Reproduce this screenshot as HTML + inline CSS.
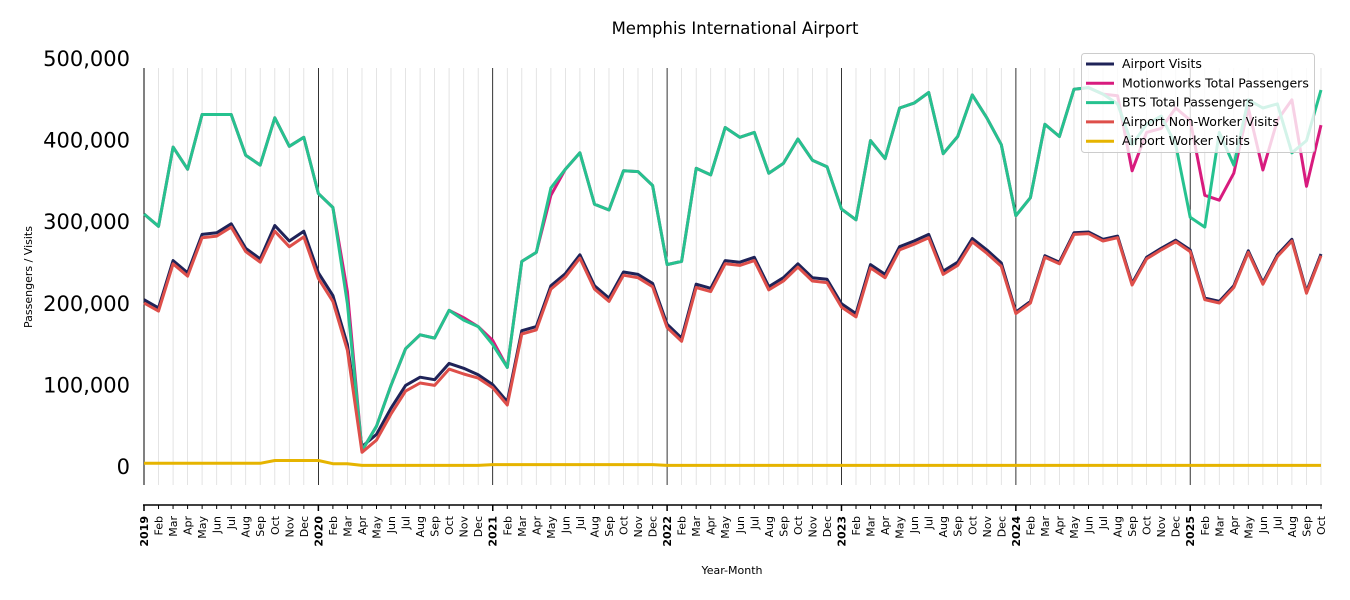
<!DOCTYPE html>
<html><head><meta charset="utf-8"><style>
body{margin:0;background:#fff;}
svg{display:block;font-family:"DejaVu Sans","Liberation Sans",sans-serif;}
</style></head><body>
<svg id="s" width="1350" height="600" xmlns="http://www.w3.org/2000/svg"></svg>
<script>
const S=document.getElementById('s');
const X0=144,DX=(1321-144)/81;
const xv=i=>X0+DX*i, yv=v=>467-v*0.816;
let h='';
h+='<text x="735" y="34" font-size="16.5" text-anchor="middle">Memphis International Airport</text>';
for(let i=0;i<82;i++){const x=xv(i).toFixed(1);
 if(i%12==0) h+=`<line x1="${x}" y1="68" x2="${x}" y2="485" stroke="#000" stroke-width="0.8"/>`;
 else h+=`<line x1="${x}" y1="68" x2="${x}" y2="485" stroke="#ddd" stroke-width="0.8"/>`;}
h+='<line x1="144" y1="68" x2="144" y2="485" stroke="#000" stroke-width="1"/>';
const yl=['0','100,000','200,000','300,000','400,000','500,000'];
yl.forEach((t,k)=>{const y=yv(k*100);h+=`<text x="130" y="${y+7}" font-size="21" text-anchor="end">${t}</text>`;});
h+='<text transform="translate(32,277) rotate(-90)" font-size="11" text-anchor="middle">Passengers / Visits</text>';
h+='<line x1="143" y1="505" x2="1322" y2="505" stroke="#000" stroke-width="1.5"/>';
const mn=['Feb','Mar','Apr','May','Jun','Jul','Aug','Sep','Oct','Nov','Dec'];
for(let i=0;i<82;i++){const x=xv(i);const m=i%12;
 h+=`<line x1="${x}" y1="505" x2="${x}" y2="${m==0?511:509}" stroke="#000" stroke-width="${m==0?1.5:1}"/>`;
 const t=m==0?(2019+i/12):mn[m-1];
 h+=`<text transform="translate(${x+4},516) rotate(-90)" font-size="11" text-anchor="end" ${m==0?'font-weight="bold"':''}>${t}</text>`;}
h+='<text x="732" y="574" font-size="11" text-anchor="middle">Year-Month</text>';
const bts=[310,295,392,365,432,432,432,382,370,428,393,404,335,318,200,20,50,100,145,162,158,192,180,172,150,122,252,263,342,365,385,322,315,363,362,345,248,252,366,358,416,404,410,360,372,402,376,368,316,303,400,378,440,446,459,384,405,456,428,395,308,330,420,405,463,465,457,445,395,420,430,395,306,294,410,370,450,440,445,385,400,462];
const mw=bts.slice();
const ov={14:215,22:183,24:155,28:333,67:455,68:363,69:410,70:415,71:440,72:425,73:333,74:327,75:360,76:440,77:364,78:425,79:450,80:344,81:419};
for(const k in ov)mw[k]=ov[k];
const av=[205,195,253,238,285,287,298,268,255,296,277,289,238,210,150,25,40,72,100,110,107,127,121,113,101,80,167,172,222,237,260,222,207,239,236,225,175,158,224,219,253,251,257,221,232,249,232,230,200,188,248,236,270,277,285,240,251,280,266,250,190,203,259,251,287,288,279,283,225,257,268,278,266,207,203,222,265,226,260,279,215,261];
const nw=av.map((v,i)=>v-(i>=9&&i<=22?7:i<60?4:2));
const wk=av.map((v,i)=>i<9?4.5:i<13?8:i<15?4:i<24?2:i<36?3:2);
function pl(d,c){return `<polyline fill="none" stroke="${c}" stroke-width="3" stroke-linejoin="round" points="${d.map((v,i)=>xv(i).toFixed(1)+','+yv(v).toFixed(1)).join(' ')}"/>`;}
h+=pl(av,'#1f2358')+pl(mw,'#d81b7e')+pl(bts,'#26c28f')+pl(nw,'#de4f4a')+pl(wk,'#e6b400');
h+='<rect x="1081.5" y="53.5" width="233" height="99" rx="3" fill="#fff" fill-opacity="0.8" stroke="#ccc"/>';
const lg=[['Airport Visits','#1f2358'],['Motionworks Total Passengers','#d81b7e'],['BTS Total Passengers','#26c28f'],['Airport Non-Worker Visits','#de4f4a'],['Airport Worker Visits','#e6b400']];
lg.forEach((l,k)=>{const y=64+k*19.3;h+=`<line x1="1086" y1="${y}" x2="1114" y2="${y}" stroke="${l[1]}" stroke-width="3"/><text x="1122" y="${y+4}" font-size="12.5">${l[0]}</text>`;});
S.innerHTML=h;
</script>
</body></html>
